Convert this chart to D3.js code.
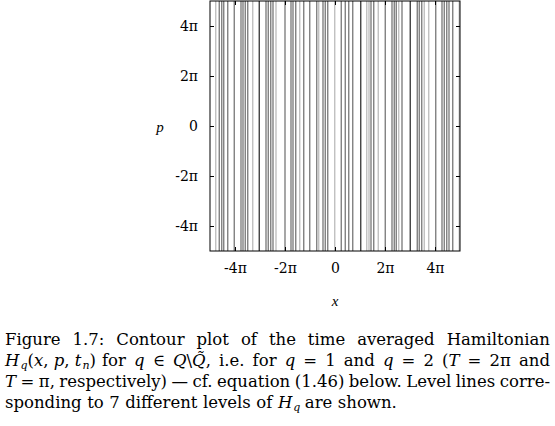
<!DOCTYPE html>
<html><head><meta charset="utf-8">
<script src="https://cdn.jsdelivr.net/npm/d3@7"></script>
<style>body{margin:0;background:#fff}svg{font-family:"Liberation Serif",serif}</style>
</head><body><svg width="555" height="426"></svg>
<script>
// level line positions in units of pi, with shade of the level
var levelX = [-4.77,-4.63,-4.53,-4.45,-4.29,-4.03,-3.76,-3.68,-3.59,-3.49,-3.29,-3.03,-2.76,-2.67,-2.57,-2.48,-2.36,-2.0,-1.76,-1.68,-1.57,-1.41,-1.25,-1.01,-0.73,-0.65,-0.48,-0.39,-0.29,-0.01,0.25,0.41,0.55,0.71,1.03,1.27,1.36,1.44,1.55,1.73,2.01,2.28,2.37,2.45,2.55,2.68,3.01,3.29,3.37,3.47,3.57,3.75,4.03,4.28,4.37,4.47,4.56,4.71,4.97];
var levelShade = ["L","G","G","G","G","G","G","G","G","G","L","D","G","G","G","G","L","G","G","G","G","L","G","G","G","L","G","G","G","L","G","G","G","G","D","L","L","G","G","L","G","G","G","G","L","G","D","G","G","G","L","L","G","G","G","G","G","G","L"];
var ticks = [-4, -2, 0, 2, 4];
var tickLabels = ["-4π", "-2π", "0", "2π", "4π"];
var caption = [
  [[["Figure"]],[["1.7:"]],[["Contour"]],[["plot"]],[["of"]],[["the"]],[["time"]],[["averaged"]],[["Hamiltonian"]]],
  [[["H","i"],["q","s"],["(","n"],["x","i"],[", ","n"],["p","i"],[", ","n"],["t","i"],["n","s"],[")","n"]],[["for"]],[["q","i"]],[["∈"]],[["Q","i"],["\\","n"],["Q̃","i"],[",","n"]],[["i.e."]],[["for"]],[["q","i"]],[["="]],[["1"]],[["and"]],[["q","i"]],[["="]],[["2"]],[["(","n"],["T","i"]],[["="]],[["2π"]],[["and"]]],
  [[["T","i"]],[["="]],[["π,"]],[["respectively)"]],[["—"]],[["cf."]],[["equation"]],[["(1.46)"]],[["below."]],[["Level"]],[["lines"]],[["corre-"]]],
  [[["sponding"]],[["to"]],[["7"]],[["different"]],[["levels"]],[["of"]],[["H","i"],["q","s"]],[["are"]],[["shown."]]]
];
var justify = [true, true, true, false];

var svg = d3.select("svg");
var x = d3.scaleLinear().domain([-5, 5]).range([210, 460]);
var y = d3.scaleLinear().domain([-5, 5]).range([251, 1]);
var shade = {L: "#bbb", G: "#777", D: "#333"};

svg.selectAll("line.lv").data(levelX).enter().append("line")
  .attr("x1", d => x(d)).attr("x2", d => x(d))
  .attr("y1", y(5)).attr("y2", y(-5))
  .attr("stroke", (d, i) => shade[levelShade[i]]).attr("stroke-width", 1.3);

svg.append("rect").attr("x", x(-5)).attr("y", y(5)).attr("width", x(5) - x(-5)).attr("height", y(-5) - y(5))
  .attr("fill", "none").attr("stroke", "#000");

var fmt = (d, i) => tickLabels[i];
svg.append("g").attr("transform", "translate(0," + y(-5) + ")")
  .call(d3.axisBottom(x).tickValues(ticks).tickSize(-4).tickPadding(12).tickFormat(fmt));
svg.append("g").attr("transform", "translate(0," + y(5) + ")")
  .call(d3.axisTop(x).tickValues(ticks).tickSize(-4).tickFormat(""));
svg.append("g").attr("transform", "translate(" + x(-5) + ",0)")
  .call(d3.axisLeft(y).tickValues(ticks).tickSize(-4).tickPadding(12).tickFormat(fmt));
svg.append("g").attr("transform", "translate(" + x(5) + ",0)")
  .call(d3.axisRight(y).tickValues(ticks).tickSize(-4).tickFormat(""));
svg.selectAll(".domain").remove();
svg.selectAll("g").attr("font-family", "DejaVu Serif").attr("font-size", 14);
svg.selectAll(".tick text").attr("fill", "#000");

svg.append("text").attr("x", 160).attr("y", 132).attr("font-style", "italic").attr("font-size", 15).attr("text-anchor", "middle").text("p");
svg.append("text").attr("x", 335).attr("y", 306).attr("font-style", "italic").attr("font-size", 15).attr("text-anchor", "middle").text("x");

// caption, justified word by word
var left = 5, right = 550, base = [345, 366, 387, 408];
caption.forEach(function (words, li) {
  var nodes = words.map(function (w) {
    var t = svg.append("text").attr("y", base[li]).attr("font-size", 16.5).attr("font-family", "DejaVu Serif");
    var low = false;
    w.forEach(function (s) {
      var ts = t.append("tspan").text(s[0]);
      if (s[1] === "i") ts.attr("font-style", "italic");
      if (s[1] === "s") { ts.attr("font-size", 11).attr("font-style", "italic").attr("dy", 3).attr("dx", 1); low = true; }
      else if (low) { ts.attr("dy", -3); low = false; }
    });
    return t;
  });
  var widths = nodes.map(n => n.node().getComputedTextLength());
  var total = d3.sum(widths);
  var gap = justify[li] ? (right - left - total) / (nodes.length - 1) : 5.5;
  var cx = left;
  nodes.forEach(function (n, i) { n.attr("x", cx); cx += widths[i] + gap; });
});
</script></body></html>
